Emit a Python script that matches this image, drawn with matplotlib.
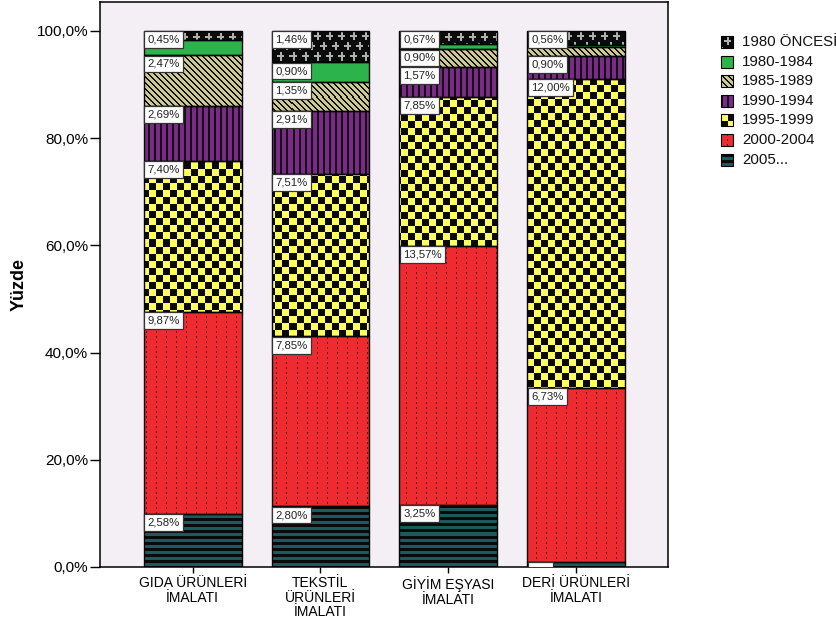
import numpy as np
import matplotlib
matplotlib.use("Agg")
import matplotlib.pyplot as plt
from matplotlib import colors as mcolors

plt.rcParams['font.family'] = ['Liberation Sans', 'DejaVu Sans']

# ---------------- data ----------------
categories = ["GIDA ÜRÜNLERİ\nİMALATI", "TEKSTİL\nÜRÜNLERİ\nİMALATI",
              "GİYİM EŞYASI\nİMALATI", "DERİ ÜRÜNLERİ\nİMALATI"]
series_names = ["2005...", "2000-2004", "1995-1999", "1990-1994",
                "1985-1989", "1980-1984", "1980 ÖNCESİ"]

# column percentages (segment heights), stacked bottom -> top
s2005 = [9.85, 11.30, 11.57, 1.00]
s2000 = [37.70, 31.70, 48.30, 32.40]
s1995 = [28.20, 30.30, 27.90, 57.70]
s1990 = [10.30, 11.74, 5.59, 4.30]
s1985 = [9.40, 5.45, 3.20, 1.60]
s1980 = [2.90, 3.63, 1.07, 0.30]
sonce = [1.65, 5.88, 2.38, 2.70]

# box labels (percent of total); blank = box whose text is not readable
lab2005 = ["2,58%", "2,80%", "3,25%", "      "]
lab2000 = ["9,87%", "7,85%", "13,57%", "6,73%"]
lab1995 = ["7,40%", "7,51%", "7,85%", "12,00%"]
lab1990 = ["2,69%", "2,91%", "1,57%", "0,90%"]
lab1985 = ["2,47%", "1,35%", "0,90%", None]
lab1980 = [None, "0,90%", None, None]
labonce = ["0,45%", "1,46%", "0,67%", "0,56%"]

yticks = [0, 20, 40, 60, 80, 100]
ytick_labels = ["0,0%", "20,0%", "40,0%", "60,0%", "80,0%", "100,0%"]

values = [s2005, s2000, s1995, s1990, s1985, s1980, sonce]
labels = [lab2005, lab2000, lab1995, lab1990, lab1985, lab1980, labonce]
kinds = ["s2005", "s2000", "s1995", "s1990", "s1985", "s1980", "once"]


# ---------------- textures ----------------
def rgb(c):
    return np.array(mcolors.to_rgb(c))


def texture(kind, h, w):
    i = np.arange(h)[:, None]
    j = np.arange(w)[None, :]
    if kind == "once":
        base, fg = rgb("#0b0b0b"), rgb("#b0b0b0")
        row = i // 10
        jj = (j + (row % 2) * 6) % 12
        ii = i % 10
        mask = (((ii == 4) | (ii == 5)) & (np.abs(jj - 6) <= 3)) | \
               (((jj == 6) | (jj == 7)) & (ii >= 1) & (ii <= 8))
    elif kind == "s1980":
        base, fg = rgb("#2db34b"), rgb("#2db34b")
        mask = np.zeros((h, w), bool)
    elif kind == "s1985":
        base, fg = rgb("#cdc898"), rgb("#111111")
        mask = ((j - i) % 6) < 2
    elif kind == "s1990":
        base, fg = rgb("#7b2a88"), rgb("#111111")
        mask = (j % 6) < 2
    elif kind == "s1995":
        base, fg = rgb("#ffff5e"), rgb("#0a0a0a")
        mask = ((i // 7 + j // 7) % 2) == 1
    elif kind == "s2000":
        base, fg = rgb("#ee2b30"), rgb("#6a1010")
        mask = ((j % 10) == 6) & ((i % 5) < 2)
    else:  # s2005
        base, fg = rgb("#1c5b5b"), rgb("#0a0a0a")
        mask = (i % 6) < 3
    mask = np.broadcast_to(mask, (h, w))
    img = np.empty((h, w, 3))
    img[:] = base
    img[mask] = fg
    return img


# ---------------- figure ----------------
W, H = 836, 629
fig = plt.figure(figsize=(W / 100, H / 100), dpi=100)
fig.patch.set_facecolor("white")
ax = fig.add_axes([100 / W, 1 - 567 / H, 568 / W, 565 / H])
ax.set_facecolor("#f3eff4")

x = np.arange(len(categories))
width = 0.765
xlim = (-0.725, 3.72)
ylim = (0, 105.4)
ax.set_xlim(*xlim)
ax.set_ylim(*ylim)

axw = int(round(ax.bbox.width))
axh = int(round(ax.bbox.height))
tex = {k: texture(k, axh, axw) for k in kinds}

bottom = np.zeros(len(categories))
tops = []
for vals, kind in zip(values, kinds):
    bars = ax.bar(x, vals, width=width, bottom=bottom, facecolor="none",
                  edgecolor="black", linewidth=1.0, zorder=3)
    for rect in bars:
        im = ax.imshow(tex[kind], extent=(xlim[0], xlim[1], ylim[0], ylim[1]),
                       origin="upper", interpolation="nearest", aspect="auto",
                       zorder=2)
        im.set_clip_path(rect)
    bottom = bottom + np.array(vals)
    tops.append(bottom.copy())

ax.set_xlim(*xlim)
ax.set_ylim(*ylim)

# box labels at top-left of each segment
for labs, top in zip(labels, tops):
    for k, lab in enumerate(labs):
        if lab is None:
            continue
        t = ax.annotate(lab, xy=(x[k] - width / 2, top[k]), xytext=(2.8, -2.6),
                        textcoords="offset points", ha="left", va="top",
                        fontsize=8.2, color="#222222", zorder=5,
                        bbox=dict(boxstyle="square,pad=0.3", facecolor="white",
                                  edgecolor="#333333", linewidth=0.9),
                        annotation_clip=False)
        t.set_clip_on(True)
        t.set_clip_box(ax.bbox)

ax.set_yticks(yticks)
ax.set_yticklabels(ytick_labels, fontsize=11)
ax.set_xticks(x)
ax.set_xticklabels(categories, fontsize=10, linespacing=1.05)
ax.tick_params(axis="y", length=7, width=1.0, pad=1.5)
ax.tick_params(axis="x", length=4.5, width=1.0, pad=2)
for sp in ax.spines.values():
    sp.set_linewidth(1.1)
    sp.set_color("black")
ax.set_ylabel("Yüzde", fontsize=13, fontweight="bold")
ax.yaxis.set_label_coords(-0.127, 0.5)

# ---------------- legend (drawn in figure pixel space) ----------------
lax = fig.add_axes([0, 0, 1, 1], zorder=10)
lax.set_xlim(0, W)
lax.set_ylim(H, 0)
lax.axis("off")
leg_order = list(range(len(series_names)))[::-1]
for n, s in enumerate(leg_order):
    yc = 42 + n * 19.6
    x0, x1 = 721, 733
    y0, y1 = yc - 6, yc + 6
    lax.imshow(texture(kinds[s], 12, 12), extent=(x0, x1, y1, y0), origin="upper",
               interpolation="nearest", aspect="auto")
    lax.add_patch(plt.Rectangle((x0, y0), x1 - x0, y1 - y0, facecolor="none",
                                edgecolor="black", linewidth=0.8))
    lax.text(742, yc, series_names[s], fontsize=10.8, ha="left", va="center",
             color="#111111")
lax.set_xlim(0, W)
lax.set_ylim(H, 0)

fig.savefig("out.png", dpi=100)
